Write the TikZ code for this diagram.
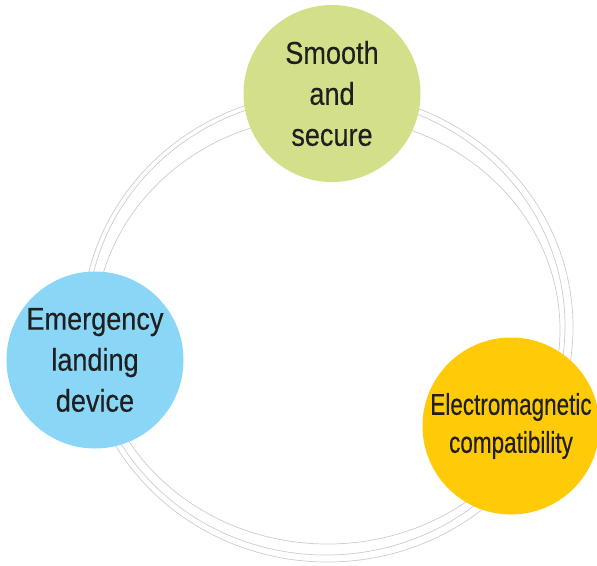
\documentclass[tikz,border=0pt]{standalone}
\usepackage{fontspec}
\setmainfont{Liberation Sans}[FakeStretch=0.86,FakeBold=0.3]
\newfontfamily\emcfont{Liberation Sans}[FakeStretch=0.75,FakeBold=0.3]
\usepackage{tikz}
\definecolor{smoothgreen}{HTML}{D4E089}
\definecolor{landingblue}{HTML}{89D6F6}
\definecolor{emcyellow}{HTML}{FFCA08}
\tikzstyle{bubble}=[circle,minimum size=177pt,inner sep=0pt,align=center,text=black!88,font=\fontsize{31.5}{41}\selectfont]
\tikzstyle{ring}=[draw=black!20,line width=0.7pt]

\begin{document}
\begin{tikzpicture}[x=1pt,y=-1pt]
  \useasboundingbox (0,0) rectangle (597,565);
  \foreach \cx/\cy/\rx/\ry in {327.5/330/232.5/214, 326/326/239/229, 327.5/327/245.5/235}
    \draw[ring] (\cx,\cy) ellipse [x radius=\rx pt, y radius=\ry pt];
  \node[bubble,fill=smoothgreen] (smooth) at (332,93.5) {Smooth\\and\\secure};
  \node[bubble,fill=landingblue] (landing) at (95,360) {Emergency\\landing\\device};
  \node[bubble,fill=emcyellow,font=\emcfont\fontsize{30}{38}\selectfont] (emc) at (511,426) {Electromagnetic\\compatibility};
\end{tikzpicture}
\end{document}
